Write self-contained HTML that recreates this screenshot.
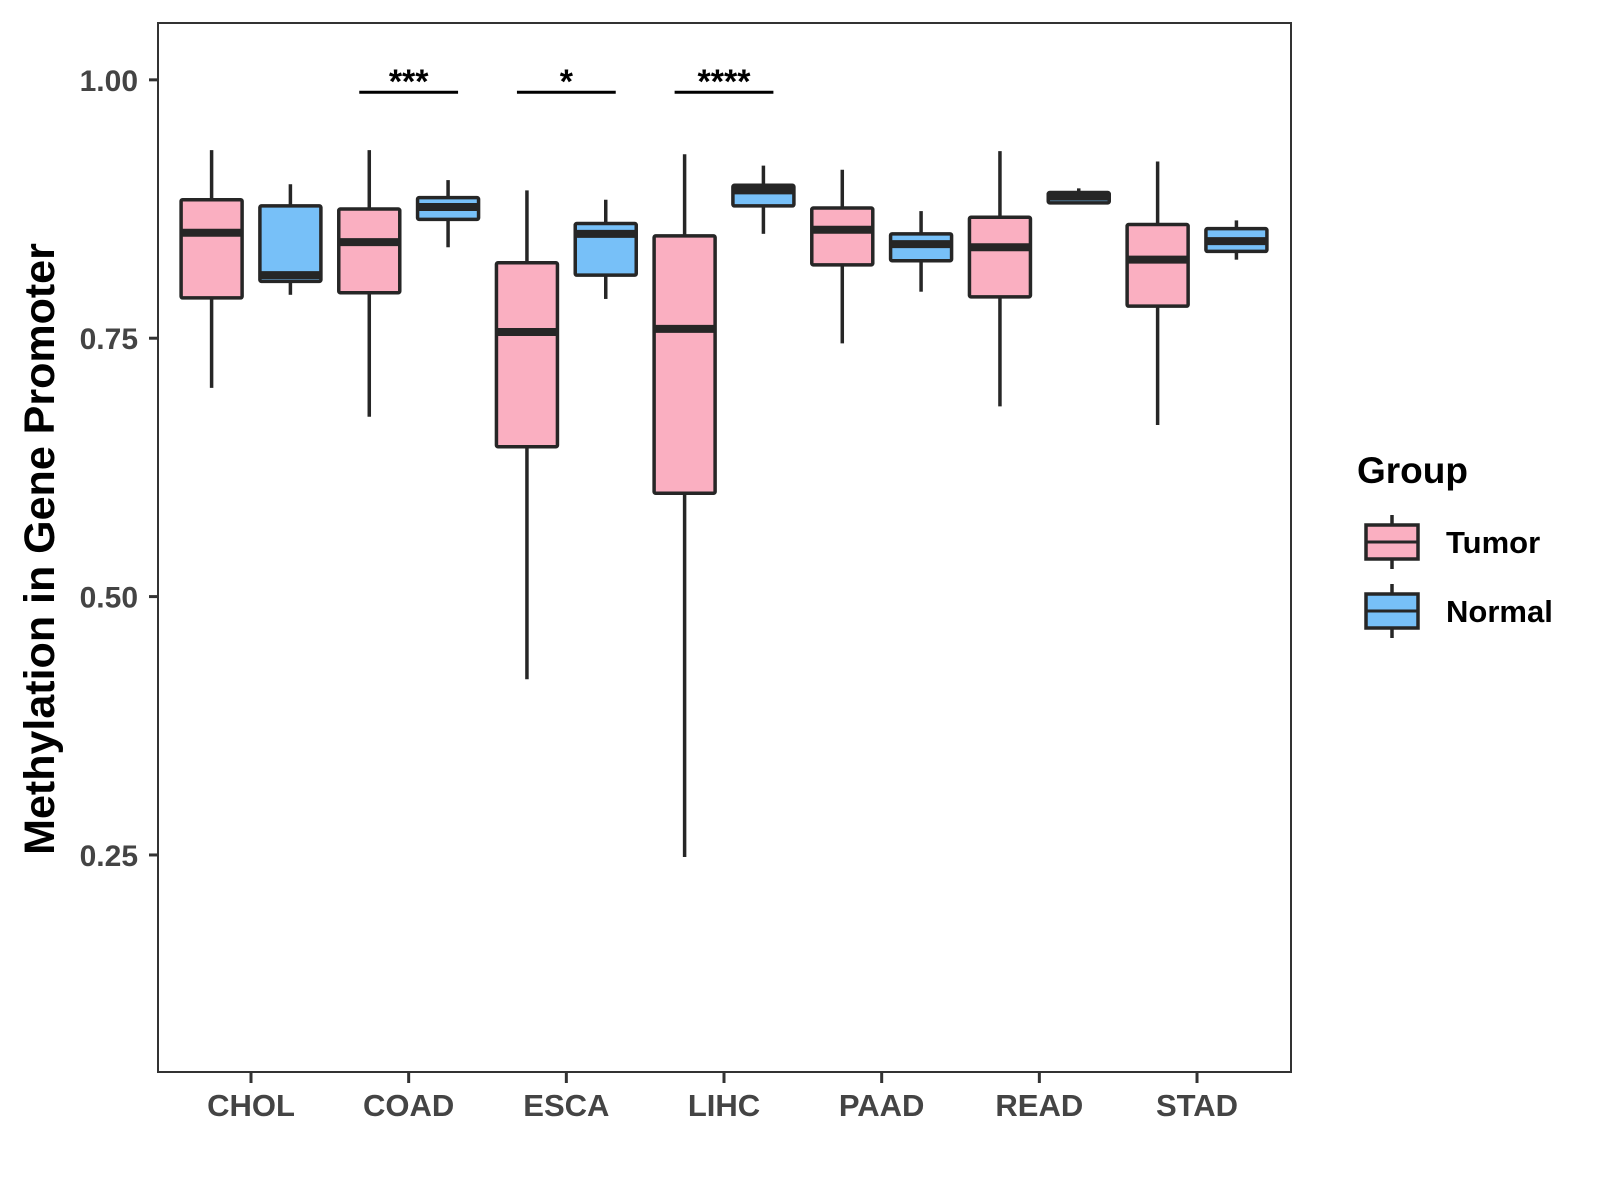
<!DOCTYPE html>
<html><head><meta charset="utf-8"><style>
html,body{margin:0;padding:0;background:#fff}
svg{display:block;font-family:"Liberation Sans",Arial,sans-serif}
</style></head><body>
<svg id="chart" width="1600" height="1200" viewBox="0 0 1600 1200">
<rect x="0" y="0" width="1600" height="1200" fill="#fff"/>
<g id="plot"></g>
</svg>
<script>
const categories = ["CHOL","COAD","ESCA","LIHC","PAAD","READ","STAD"];
const groups = ["Tumor","Normal"];
// [whiskerLow, q1, median, q3, whiskerHigh]
const tumorStats = [
  [0.702,0.789,0.852,0.884,0.932],
  [0.674,0.794,0.843,0.875,0.932],
  [0.420,0.645,0.756,0.823,0.893],
  [0.248,0.600,0.759,0.849,0.928],
  [0.745,0.821,0.855,0.876,0.913],
  [0.684,0.790,0.838,0.867,0.931],
  [0.666,0.781,0.826,0.860,0.921]
];
const normalStats = [
  [0.792,0.805,0.811,0.878,0.899],
  [0.838,0.865,0.877,0.886,0.903],
  [0.788,0.811,0.851,0.861,0.884],
  [0.851,0.878,0.893,0.898,0.917],
  [0.795,0.825,0.841,0.851,0.873],
  [0.880,0.881,0.887,0.891,0.895],
  [0.826,0.834,0.844,0.856,0.864]
];
const yTicks = [0.25,0.50,0.75,1.00];
const yTickLabels = ["0.25","0.50","0.75","1.00"];
const sigCategories = ["COAD","ESCA","LIHC"];
const sigLabels = ["***","*","****"];
const sigHeight = 0.988;

const NS="http://www.w3.org/2000/svg";
const plot=document.getElementById('plot');
const P={l:158,r:1291,t:23,b:1072};
const yMin=0.04, yMax=1.055;
function y(v){return P.b-(v-yMin)/(yMax-yMin)*(P.b-P.t);}
function xc(i){return 251+i*157.67;}
const dodge=39.4, bw=61;
const fills={Tumor:"#FAAFC1",Normal:"#77C0F8"};
function mk(tag,attrs,parent){const e=document.createElementNS(NS,tag);for(const k in attrs)e.setAttribute(k,attrs[k]);(parent||plot).appendChild(e);return e;}

const panel=mk('rect',{x:P.l,y:P.t,width:P.r-P.l,height:P.b-P.t,fill:"none",stroke:"#333",'stroke-width':2});



yTicks.forEach((v,i)=>{
  const t=mk('line',{x1:P.l-9,x2:P.l,y1:y(v),y2:y(v),stroke:"#333",'stroke-width':3});
  
  
  const tx=mk('text',{x:P.l-20,y:y(v)+11,'text-anchor':'end','font-size':30,'font-weight':'bold',fill:'#444'});
  tx.textContent=yTickLabels[i];
  
  
});
categories.forEach((c,i)=>{
  const t=mk('line',{x1:xc(i),x2:xc(i),y1:P.b,y2:P.b+11,stroke:"#333",'stroke-width':3});
  
  
  const tx=mk('text',{x:xc(i),y:P.b+44,'text-anchor':'middle','font-size':31,'font-weight':'bold',fill:'#444'});
  tx.textContent=c;
  
  
});

function drawBox(cx,s,fill,name){
  const g=mk('g',{});
  
  
  mk('line',{x1:cx,x2:cx,y1:y(s[0]),y2:y(s[1]),stroke:'#262626','stroke-width':3.5},g);
  mk('line',{x1:cx,x2:cx,y1:y(s[3]),y2:y(s[4]),stroke:'#262626','stroke-width':3.5},g);
  mk('rect',{x:cx-bw/2,y:y(s[3]),width:bw,height:Math.max(0,y(s[1])-y(s[3])),fill:fill,stroke:'#262626','stroke-width':3.5,rx:1.5},g);
  mk('line',{x1:cx-bw/2,x2:cx+bw/2,y1:y(s[2]),y2:y(s[2]),stroke:'#262626','stroke-width':8},g);
}
categories.forEach((c,i)=>{
  drawBox(xc(i)-dodge,tumorStats[i],fills.Tumor,'box-tumor-'+c.toLowerCase());
  drawBox(xc(i)+dodge,normalStats[i],fills.Normal,'box-normal-'+c.toLowerCase());
});

sigCategories.forEach((c,k)=>{
  const i=categories.indexOf(c);
  const l=mk('line',{x1:xc(i)-dodge-10,x2:xc(i)+dodge+10,y1:y(sigHeight),y2:y(sigHeight),stroke:'#000','stroke-width':3});
  
  
  const t=mk('text',{x:xc(i),y:y(sigHeight)+1,'text-anchor':'middle','font-size':34,'font-weight':'bold',fill:'#000'});
  t.textContent=sigLabels[k];
  
  
});

const yt=mk('text',{x:0,y:0,transform:'translate(54,549) rotate(-90)','text-anchor':'middle','font-size':43,'font-weight':'bold',fill:'#000'});
yt.textContent='Methylation in Gene Promoter';



const lg=mk('g',{});


const lt=mk('text',{x:1357,y:483,'font-size':37,'font-weight':'bold',fill:'#000'},lg);
lt.textContent='Group';


groups.forEach((gname,k)=>{
  const cy=542+k*69;
  const e=mk('g',{},lg);
  
  
  mk('line',{x1:1392,x2:1392,y1:cy-27,y2:cy+27,stroke:'#262626','stroke-width':3.5},e);
  mk('rect',{x:1366,y:cy-17,width:52,height:34,fill:fills[gname],stroke:'#262626','stroke-width':3.5},e);
  mk('line',{x1:1366,x2:1418,y1:cy,y2:cy,stroke:'#262626','stroke-width':3},e);
  const t=mk('text',{x:1446,y:cy+11,'font-size':31,'font-weight':'bold',fill:'#000'},e);
  t.textContent=gname;
});
</script>
</body></html>
